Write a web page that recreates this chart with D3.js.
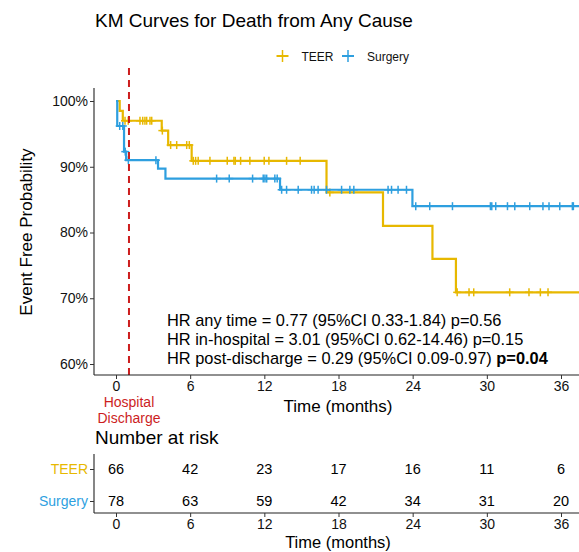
<!DOCTYPE html>
<html><head><meta charset="utf-8">
<script src="https://cdn.jsdelivr.net/npm/d3@7"></script>
<style>body{margin:0;background:#fff}svg{display:block;font-family:"Liberation Sans",Arial,sans-serif}</style>
</head><body><svg id="c" width="579" height="552"></svg>
<script>
// ---- data ----
const groups = ["TEER", "Surgery"];
const groupColors = ["#E7B800", "#2E9FDF"];
const monthTicks = [0, 6, 12, 18, 24, 30, 36];
const yTicks = [60, 70, 80, 90, 100];
const dischargeMonth = 1.05;

const teerEventTimes = [0.3, 0.55, 3.7, 4.22, 6.12, 17.03, 21.6, 25.6, 27.5];
const teerEventSurv  = [98.5, 97.0, 95.5, 93.3, 90.9, 86.1, 81.0, 76.0, 70.9];
const teerCensorTimes = [0.73, 0.99, 1.94, 2.16, 2.34, 2.48, 2.75, 2.89, 3.75,
  4.42, 4.91, 5.72, 5.93, 6.25, 6.44, 6.65, 7.6, 9.0, 9.54, 9.65, 10.08, 10.83,
  11.99, 12.37, 13.8, 14.9, 17.3, 27.6, 28.56, 28.94, 31.85, 33.41, 34.33, 34.95];

const surgEventTimes = [0.1, 0.65, 0.82, 3.4, 4.0, 13.27, 23.98];
const surgEventSurv  = [96.2, 92.3, 91.0, 89.7, 88.2, 86.5, 84.0];
const surgCensorTimes = [0.3, 0.55, 0.75, 1.0, 3.23, 8.14, 9.16, 11.05, 11.91, 12.05,
  12.19, 12.85, 13.04, 13.4, 13.8, 14.74, 15.82, 16.03, 16.35, 17.03, 18.25, 18.92,
  19.24, 22.01, 22.29, 22.82, 23.5, 24.25, 25.38, 27.22, 30.29, 30.4, 30.72, 31.67,
  32.26, 33.47, 34.54, 35.03, 35.9, 36.92, 37.0];

const teerRisk = [66, 42, 23, 17, 16, 11, 6];
const surgRisk = [78, 63, 59, 42, 34, 31, 20];

const hrLines = [
  ["HR any time = 0.77 (95%CI 0.33-1.84) p=0.56", ""],
  ["HR in-hospital = 3.01 (95%CI 0.62-14.46) p=0.15", ""],
  ["HR post-discharge = 0.29 (95%CI 0.09-0.97) ", "p=0.04"]
];

// ---- layout ----
const svg = d3.select("#c");
const x = d3.scaleLinear().domain([0, 36]).range([116, 561]);
const y = d3.scaleLinear().domain([60, 100]).range([364, 101]);
const plotL = 94, plotR = 586, plotT = 88, plotB = 375;
const xMaxT = x.invert(plotR);

svg.append("text").attr("x", 95).attr("y", 27).attr("font-size", 19).attr("fill", "#000")
  .text("KM Curves for Death from Any Cause");

// legend
const leg = svg.append("g");
const legItems = [{x: 282.5, tx: 301.5}, {x: 348, tx: 367}];
groups.forEach((g, i) => {
  const L = legItems[i];
  leg.append("line").attr("x1", L.x - 6).attr("x2", L.x + 6).attr("y1", 56).attr("y2", 56)
    .attr("stroke", groupColors[i]).attr("stroke-width", 2);
  leg.append("line").attr("x1", L.x).attr("x2", L.x).attr("y1", 50).attr("y2", 62)
    .attr("stroke", groupColors[i]).attr("stroke-width", 1.5);
  leg.append("text").attr("x", L.tx).attr("y", 60.5).attr("font-size", 12).attr("fill", "#111").text(g);
});

// clip
svg.append("clipPath").attr("id", "pc").append("rect")
  .attr("x", plotL).attr("y", plotT - 20).attr("width", plotR - plotL).attr("height", plotB - plotT + 20);

const plot = svg.append("g").attr("clip-path", "url(#pc)");

function stepPoints(times, surv) {
  const pts = [[0, 100]];
  let s = 100;
  times.forEach((t, i) => { pts.push([t, s]); s = surv[i]; pts.push([t, s]); });
  pts.push([xMaxT + 1, s]);
  return pts;
}
function survAt(times, surv, t) {
  let s = 100;
  times.forEach((tt, i) => { if (tt <= t) s = surv[i]; });
  return s;
}
const line = d3.line().x(d => x(d[0])).y(d => y(d[1]));

const series = [
  {times: teerEventTimes, surv: teerEventSurv, cens: teerCensorTimes, color: groupColors[0]},
  {times: surgEventTimes, surv: surgEventSurv, cens: surgCensorTimes, color: groupColors[1]}
];
series.forEach(s => {
  plot.append("path").datum(stepPoints(s.times, s.surv)).attr("d", line)
    .attr("fill", "none").attr("stroke", s.color).attr("stroke-width", 2.2);
  s.cens.forEach(t => {
    const cx = x(t), cy = y(survAt(s.times, s.surv, t));
    plot.append("line").attr("x1", cx).attr("x2", cx).attr("y1", cy - 4).attr("y2", cy + 4)
      .attr("stroke", s.color).attr("stroke-width", 1.5);
    plot.append("line").attr("x1", cx - 4).attr("x2", cx + 4).attr("y1", cy).attr("y2", cy)
      .attr("stroke", s.color).attr("stroke-width", 1.5);
  });
});

// discharge line
svg.append("line").attr("x1", x(dischargeMonth)).attr("x2", x(dischargeMonth))
  .attr("y1", 68).attr("y2", plotB).attr("stroke", "#CC1E1E").attr("stroke-width", 2)
  .attr("stroke-dasharray", "7,5");

// axes
const yAxis = svg.append("g").attr("transform", `translate(${plotL},0)`)
  .call(d3.axisLeft(y).tickValues(yTicks).tickFormat(d => d + "%").tickSize(4).tickPadding(2));
yAxis.select(".domain").attr("d", `M0,${plotT}V${plotB}`);
const xAxis = svg.append("g").attr("transform", `translate(0,${plotB})`)
  .call(d3.axisBottom(x).tickValues(monthTicks).tickSize(4).tickPadding(2));
xAxis.select(".domain").attr("d", `M${plotL},0H${plotR}`);
[yAxis, xAxis].forEach(a => {
  a.selectAll("text").attr("font-size", 14).attr("fill", "#111").attr("font-family", "Liberation Sans, Arial, sans-serif");
  a.selectAll("line").attr("stroke", "#333");
  a.select(".domain").attr("stroke", "#222").attr("stroke-width", 1.1);
});

svg.append("text").attr("transform", "translate(32,232) rotate(-90)").attr("text-anchor", "middle")
  .attr("font-size", 17).attr("fill", "#000").text("Event Free Probability");
svg.append("text").attr("x", 338).attr("y", 412).attr("text-anchor", "middle")
  .attr("font-size", 17).attr("fill", "#000").text("Time (months)");

svg.append("text").attr("x", x(dischargeMonth)).attr("y", 407).attr("text-anchor", "middle")
  .attr("font-size", 14).attr("fill", "#CC1E1E").text("Hospital");
svg.append("text").attr("x", x(dischargeMonth)).attr("y", 423).attr("text-anchor", "middle")
  .attr("font-size", 14).attr("fill", "#CC1E1E").text("Discharge");

// HR text
hrLines.forEach((l, i) => {
  const t = svg.append("text").attr("x", 167).attr("y", 326 + i * 19.2).attr("font-size", 16.4).attr("fill", "#000");
  t.append("tspan").text(l[0]);
  if (l[1]) t.append("tspan").attr("font-weight", "bold").text(l[1]);
});

// risk table
svg.append("text").attr("x", 95).attr("y", 444).attr("font-size", 19).attr("fill", "#000").text("Number at risk");
const rowY = [469, 501];
const tblB = 513;
const tbl = svg.append("g");
const ry = d3.scalePoint().domain(groups).range(rowY);
const rAxis = tbl.append("g").attr("transform", `translate(${plotL},0)`)
  .call(d3.axisLeft(ry).tickSize(4).tickPadding(2));
rAxis.select(".domain").attr("d", `M0,454V${tblB}`);
rAxis.selectAll("text").attr("font-size", 14).attr("font-family", "Liberation Sans, Arial, sans-serif")
  .attr("fill", (d, i) => groupColors[i]);
rAxis.selectAll("line").attr("stroke", "#333");
rAxis.select(".domain").attr("stroke", "#222").attr("stroke-width", 1.1);
[teerRisk, surgRisk].forEach((arr, gi) => {
  arr.forEach((v, i) => {
    tbl.append("text").attr("x", x(monthTicks[i])).attr("y", ry(groups[gi]) + 5)
      .attr("text-anchor", "middle").attr("font-size", 14.5).attr("fill", "#000").text(v);
  });
});
const bAxis = tbl.append("g").attr("transform", `translate(0,${tblB})`)
  .call(d3.axisBottom(x).tickValues(monthTicks).tickSize(4).tickPadding(2));
bAxis.select(".domain").attr("d", `M${plotL},0H${plotR}`).attr("stroke", "#222").attr("stroke-width", 1.1);
bAxis.selectAll("text").attr("font-size", 14).attr("fill", "#111").attr("font-family", "Liberation Sans, Arial, sans-serif");
bAxis.selectAll("line").attr("stroke", "#333");
svg.append("text").attr("x", 338).attr("y", 548).attr("text-anchor", "middle")
  .attr("font-size", 16.5).attr("fill", "#000").text("Time (months)");
</script></body></html>
